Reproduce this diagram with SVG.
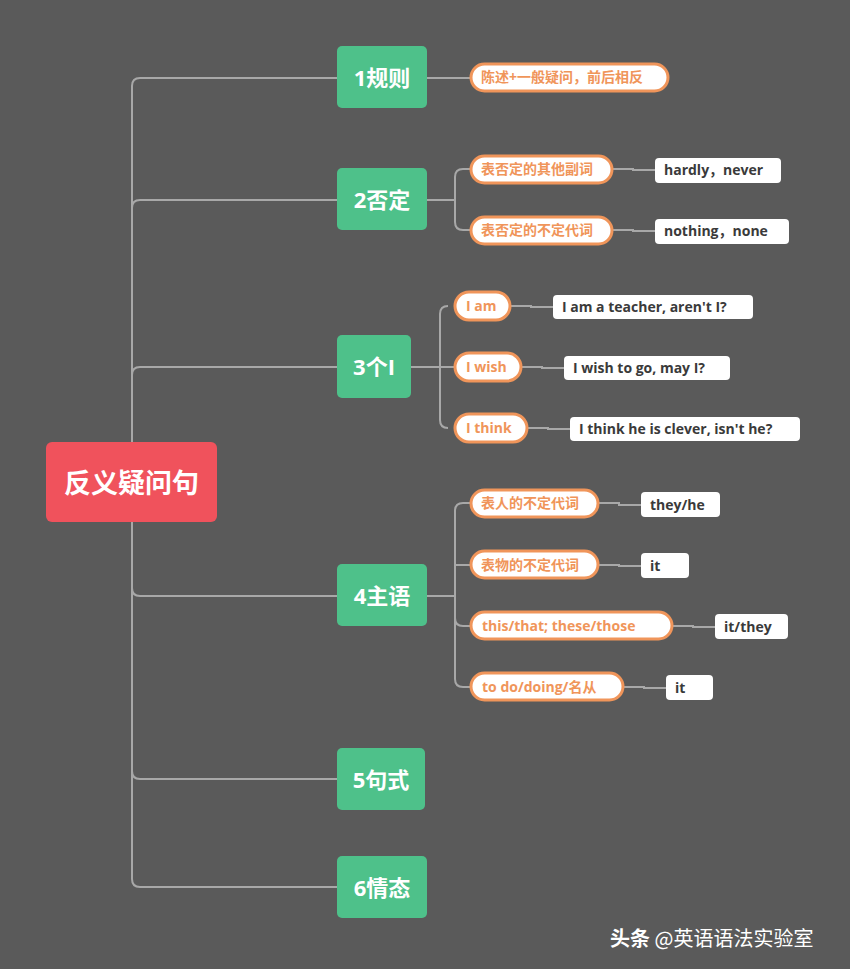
<svg xmlns="http://www.w3.org/2000/svg" width="850" height="969" viewBox="0 0 850 969">
<style>
.ln{fill:none;stroke:#a8a8a8;stroke-width:2}
.gn{fill:#4ec18a}
.gt{font-family:"Open Sans","Noto Sans CJK SC",sans-serif;font-weight:bold;font-size:22px;fill:#fff}
.op{fill:#fff;stroke:#f0955a;stroke-width:3}
.ot{font-family:"Open Sans","Noto Sans CJK SC",sans-serif;font-weight:bold;font-size:14px;fill:#f0955a}
.wb{fill:#fff}
.wt{font-family:"Open Sans","Noto Sans CJK SC",sans-serif;font-weight:bold;font-size:14px;fill:#3a3a3a}
</style>
<rect width="850" height="969" fill="#5a5a5a"/>
<g id="connectors">
<path class="ln" d="M132,442 V86 Q132,78 140,78 H337 M132,442 V208 Q132,200 140,200 H337 M132,442 V375 Q132,367 140,367 H337 M132,522 V588 Q132,596 140,596 H337 M132,522 V771 Q132,779 140,779 H337 M132,522 V879 Q132,887 140,887 H337"/>
<path class="ln" d="M427,78 H471"/>
<path class="ln" d="M427,200 H455 M455,200 V177 Q455,169 463,169 H471 M455,200 V222 Q455,230 463,230 H471"/>
<path class="ln" d="M411,367 H455 M440,367 V314 Q440,306 448,306 M440,367 V420 Q440,428 448,428"/>
<path class="ln" d="M427,596 H455 M455,596 V511 Q455,503 463,503 H471 M455,565 H471 M455,596 V618 Q455,626 463,626 H471 M455,596 V679 Q455,687 463,687 H471"/>
<path class="ln" d="M612,169 H633 V170 H655 M612,230 H633 V231 H655 M510,306 H531 V307 H553 M521,367 H542 V368 H564 M527,428 H548 V429 H570 M598,503 H619 V505 H641 M598,565 H619 V566 H641 M672,626 H693 V627 H715 M623,687 H644 V688 H666"/>
</g>
<g id="root"><rect x="46" y="442" width="171" height="80" rx="6" fill="#f0525c"/><text x="131.5" y="493" text-anchor="middle" font-family="Noto Sans CJK SC,sans-serif" font-weight="bold" font-size="27" fill="#fff">反义疑问句</text></g>
<g id="n1"><rect class="gn" x="337" y="46" width="90" height="62" rx="5"/><text class="gt" x="382" y="86" text-anchor="middle">1规则</text></g>
<g id="n2"><rect class="gn" x="337" y="168" width="90" height="62" rx="5"/><text class="gt" x="382" y="208" text-anchor="middle">2否定</text></g>
<g id="n3"><rect class="gn" x="337" y="335" width="74" height="63" rx="5"/><text class="gt" x="374" y="375" text-anchor="middle">3个I</text></g>
<g id="n4"><rect class="gn" x="337" y="564" width="90" height="62" rx="5"/><text class="gt" x="382" y="604" text-anchor="middle">4主语</text></g>
<g id="n5"><rect class="gn" x="337" y="748" width="88" height="62" rx="5"/><text class="gt" x="381" y="788" text-anchor="middle">5句式</text></g>
<g id="n6"><rect class="gn" x="337" y="856" width="90" height="62" rx="5"/><text class="gt" x="382" y="896" text-anchor="middle">6情态</text></g>
<g id="o1"><rect class="op" x="471" y="64" width="197" height="27" rx="13.5"/><text class="ot" x="481" y="82">陈述+一般疑问，前后相反</text></g>
<g id="o2a"><rect class="op" x="471" y="156" width="141" height="27" rx="13.5"/><text class="ot" x="481" y="174">表否定的其他副词</text></g>
<g id="o2b"><rect class="op" x="471" y="217" width="141" height="27" rx="13.5"/><text class="ot" x="481" y="235">表否定的不定代词</text></g>
<g id="o3a"><rect class="op" x="455" y="292" width="55" height="28" rx="14"/><text class="ot" x="466" y="311">I am</text></g>
<g id="o3b"><rect class="op" x="455" y="353" width="66" height="28" rx="14"/><text class="ot" x="466" y="372">I wish</text></g>
<g id="o3c"><rect class="op" x="455" y="414" width="72" height="28" rx="14"/><text class="ot" x="466" y="433">I think</text></g>
<g id="o4a"><rect class="op" x="471" y="490" width="127" height="27" rx="13.5"/><text class="ot" x="481" y="508">表人的不定代词</text></g>
<g id="o4b"><rect class="op" x="471" y="551" width="127" height="27" rx="13.5"/><text class="ot" x="481" y="570">表物的不定代词</text></g>
<g id="o4c"><rect class="op" x="471" y="612" width="201" height="27" rx="13.5"/><text class="ot" x="482" y="631">this/that; these/those</text></g>
<g id="o4d"><rect class="op" x="471" y="673" width="152" height="27" rx="13.5"/><text class="ot" x="482" y="692">to do/doing/名从</text></g>
<g id="w1"><rect class="wb" x="655" y="158" width="126" height="25" rx="4"/><text class="wt" x="664" y="175">hardly，never</text></g>
<g id="w2"><rect class="wb" x="655" y="219" width="134" height="25" rx="4"/><text class="wt" x="664" y="236">nothing，none</text></g>
<g id="w3"><rect class="wb" x="553" y="295" width="200" height="24" rx="4"/><text class="wt" x="562" y="312">I am a teacher, aren't I?</text></g>
<g id="w4"><rect class="wb" x="564" y="356" width="166" height="24" rx="4"/><text class="wt" x="573" y="373">I wish to go, may I?</text></g>
<g id="w5"><rect class="wb" x="570" y="417" width="230" height="24" rx="4"/><text class="wt" x="579" y="434">I think he is clever, isn't he?</text></g>
<g id="w6"><rect class="wb" x="641" y="492" width="79" height="25" rx="4"/><text class="wt" x="650" y="510">they/he</text></g>
<g id="w7"><rect class="wb" x="641" y="553" width="48" height="25" rx="4"/><text class="wt" x="650" y="571">it</text></g>
<g id="w8"><rect class="wb" x="715" y="614" width="73" height="25" rx="4"/><text class="wt" x="724" y="632">it/they</text></g>
<g id="w9"><rect class="wb" x="666" y="675" width="47" height="25" rx="4"/><text class="wt" x="675" y="693">it</text></g>
<text x="610" y="946" font-family="Noto Sans CJK SC,sans-serif" font-size="20" fill="#fff"><tspan font-weight="bold">头条</tspan> @英语语法实验室</text>
</svg>
